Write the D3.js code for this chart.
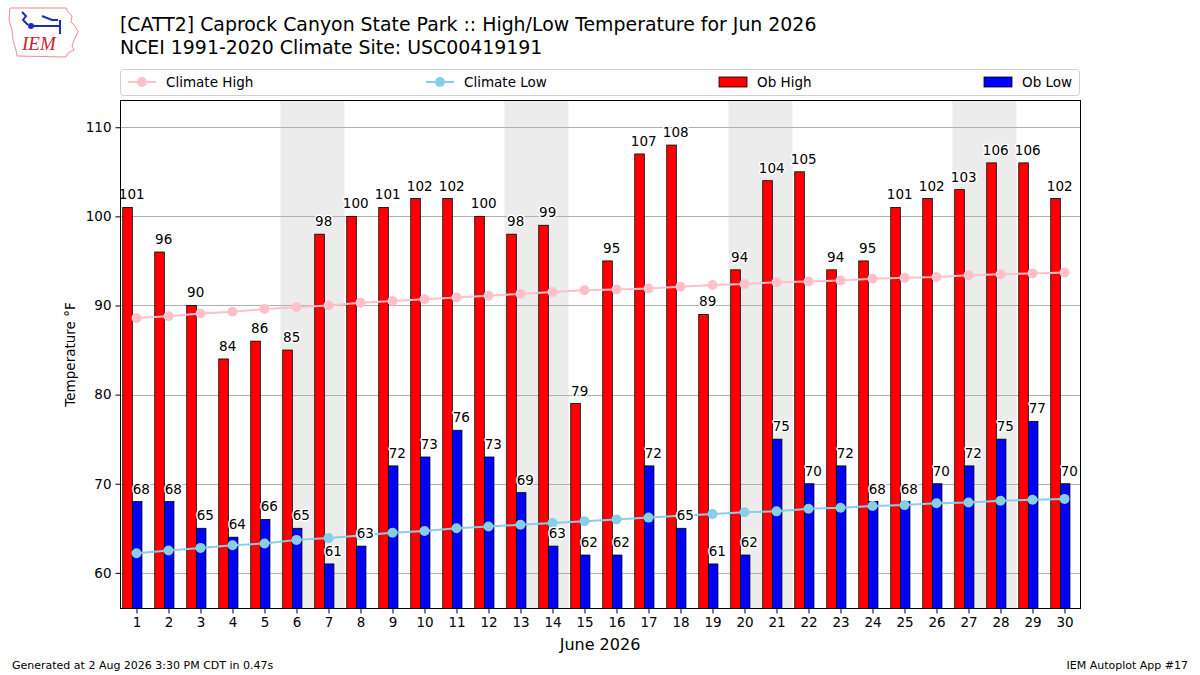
<!DOCTYPE html>
<html><head><meta charset="utf-8">
<script src="https://cdn.jsdelivr.net/npm/d3@7"></script>
<style>
body{margin:0;background:#fff;}
svg{font-family:"DejaVu Sans",sans-serif;}
</style></head>
<body><svg id="c" width="1200" height="675"></svg>
<script>
const days = d3.range(1, 31);
const obHigh = [101,96,90,84,86,85,98,100,101,102,102,100,98,99,79,95,107,108,89,94,104,105,94,95,101,102,103,106,106,102];
const obLow  = [68,68,65,64,66,65,61,63,72,73,76,73,69,63,62,62,72,65,61,62,75,70,72,68,68,70,72,75,77,70];
const climHigh = [88.6,88.8,89.1,89.3,89.6,89.8,90.0,90.3,90.5,90.7,90.9,91.1,91.3,91.5,91.7,91.8,91.9,92.1,92.3,92.4,92.6,92.7,92.8,93.0,93.1,93.2,93.4,93.5,93.6,93.7];
const climLow  = [62.2,62.5,62.8,63.1,63.3,63.7,63.9,64.2,64.5,64.7,65.0,65.2,65.4,65.6,65.8,66.0,66.2,66.4,66.6,66.8,66.9,67.2,67.3,67.5,67.6,67.8,67.9,68.1,68.2,68.3];
const weekendStarts = [6, 13, 20, 27];
const yTicks = [60,70,80,90,100,110];
const titleLines = ["[CATT2] Caprock Canyon State Park :: High/Low Temperature for Jun 2026",
                    "NCEI 1991-2020 Climate Site: USC00419191"];
const legendItems = ["Climate High","Climate Low","Ob High","Ob Low"];

const svg = d3.select("#c");
const L = 120.5, R = 1080.5, T = 100.5, B = 608.5;
const x = d3.scaleLinear().domain([0.5, 30.5]).range([L, R]);
const y = d3.scaleLinear().domain([56, 113]).range([B, T]);
const bw = x(0.3) - x(0);

// logo
const logo = svg.append("g");
logo.append("path").attr("d","M10,8 L66,8 L68,12 L72,16 L71,22 L75,26 L78,32 L74,40 L72,46 L74,50 L68,53 L66,57 L17,56 L16,50 L13,40 L12,30 L9,20 Z")
  .attr("fill","none").attr("stroke","#e87070").attr("stroke-width",0.8);
logo.append("text").attr("x",22).attr("y",50).attr("font-family","Liberation Serif,serif").attr("font-style","italic")
  .attr("font-size",19).attr("fill","#d0202a").text("IEM");
logo.append("path").attr("d","M31,26 L60,26 M60,20 L60,34 M22,12 L26,16 L23,20 L28,25 M42,16 L52,20 L58,20").attr("stroke","#1a2db0").attr("stroke-width",2).attr("fill","none");
logo.append("circle").attr("cx",31).attr("cy",26).attr("r",3).attr("fill","#1a2db0");

// titles
svg.append("text").attr("x",120).attr("y",31).attr("font-size",18.9).attr("fill","#000").text(titleLines[0]);
svg.append("text").attr("x",120).attr("y",54).attr("font-size",18.9).attr("fill","#000").text(titleLines[1]);

// weekend shading
svg.append("g").selectAll("rect").data(weekendStarts).join("rect")
  .attr("x", d => x(d - 0.5)).attr("y", T).attr("width", d => x(d + 1.5) - x(d - 0.5)).attr("height", B - T)
  .attr("fill", "#ececec");

// grid
svg.append("g").selectAll("line").data(yTicks).join("line")
  .attr("x1", L).attr("x2", R).attr("y1", d => Math.round(y(d)) + 0.5).attr("y2", d => Math.round(y(d)) + 0.5)
  .attr("stroke", "#b0b0b0").attr("stroke-width", 1);

// bars
const clip = svg.append("clipPath").attr("id","pc").append("rect").attr("x",L).attr("y",T).attr("width",R-L).attr("height",B-T);
const barsG = svg.append("g").attr("clip-path","url(#pc)");
barsG.selectAll("rect.h").data(days).join("rect").attr("class","h")
  .attr("x", (d,i) => x(d - 0.43)).attr("width", bw)
  .attr("y", (d,i) => y(obHigh[i])).attr("height", (d,i) => B + 2 - y(obHigh[i]))
  .attr("fill", "#ff0000").attr("stroke", "#000").attr("stroke-width", 0.8);
barsG.selectAll("rect.l").data(days).join("rect").attr("class","l")
  .attr("x", (d,i) => x(d - 0.13)).attr("width", bw)
  .attr("y", (d,i) => y(obLow[i])).attr("height", (d,i) => B + 2 - y(obLow[i]))
  .attr("fill", "#0000ff").attr("stroke", "#000").attr("stroke-width", 0.8);

// climate lines
function climLine(vals, color) {
  const g = svg.append("g");
  g.append("path").datum(days).attr("fill","none").attr("stroke",color).attr("stroke-width",2)
    .attr("d", d3.line().x(d => x(d)).y((d,i) => y(vals[i])));
  g.selectAll("circle").data(days).join("circle").attr("cx", d => x(d)).attr("cy", (d,i) => y(vals[i]))
    .attr("r", 5).attr("fill", color);
}
climLine(climHigh, "#ffc0cb");
climLine(climLow, "#87ceeb");

// value labels
function labels(vals, off) {
  svg.append("g").selectAll("text").data(days).join("text")
    .attr("x", d => x(d + off)).attr("y", (d,i) => y(vals[i]) - 8)
    .attr("text-anchor","middle").attr("font-size",13.5)
    .attr("stroke","#fff").attr("stroke-width",3).attr("paint-order","stroke").attr("stroke-linejoin","round")
    .attr("fill","#000").text((d,i) => vals[i]);
}
labels(obHigh, -0.15);
labels(obLow, 0.15);

// axes
const yAxis = svg.append("g").attr("transform",`translate(${L},0)`)
  .call(d3.axisLeft(y).tickValues(yTicks).tickSize(5).tickPadding(4));
const xAxis = svg.append("g").attr("transform",`translate(0,${B})`)
  .call(d3.axisBottom(x).tickValues(days).tickSize(5).tickPadding(4));
[yAxis, xAxis].forEach(a => {
  a.select(".domain").remove();
  a.selectAll("text").attr("font-size",13.5).attr("font-family","DejaVu Sans").attr("fill","#000");
  a.selectAll("line").attr("stroke","#000");
});
svg.append("rect").attr("x",L).attr("y",T).attr("width",R-L).attr("height",B-T)
  .attr("fill","none").attr("stroke","#000").attr("stroke-width",1);

svg.append("text").attr("transform",`translate(75,${(T+B)/2}) rotate(-90)`).attr("text-anchor","middle")
  .attr("font-size",13.5).text("Temperature °F");
svg.append("text").attr("x",600).attr("y",650).attr("text-anchor","middle").attr("font-size",16).text("June 2026");

// legend
const lg = svg.append("g");
lg.append("rect").attr("x",120.5).attr("y",69.5).attr("width",959).attr("height",26).attr("rx",3)
  .attr("fill","#fff").attr("stroke","#d0d0d0");
const ly = 82;
const lx = [128, 426, 719, 984];
[["#ffc0cb"],["#87ceeb"]].forEach((c,i) => {
  lg.append("line").attr("x1",lx[i]).attr("x2",lx[i]+28).attr("y1",ly).attr("y2",ly).attr("stroke",c[0]).attr("stroke-width",2);
  lg.append("circle").attr("cx",lx[i]+14).attr("cy",ly).attr("r",5).attr("fill",c[0]);
});
lg.append("rect").attr("x",lx[2]).attr("y",ly-5).attr("width",28).attr("height",10).attr("fill","#ff0000").attr("stroke","#000").attr("stroke-width",0.8);
lg.append("rect").attr("x",lx[3]).attr("y",ly-5).attr("width",28).attr("height",10).attr("fill","#0000ff").attr("stroke","#000").attr("stroke-width",0.8);
legendItems.forEach((t,i) => {
  lg.append("text").attr("x", lx[i] + 38).attr("y", ly + 5).attr("font-size",13.5).text(t);
});

// footer
svg.append("text").attr("x",12).attr("y",669).attr("font-size",11).text("Generated at 2 Aug 2026 3:30 PM CDT in 0.47s");
svg.append("text").attr("x",1188).attr("y",669).attr("text-anchor","end").attr("font-size",11).text("IEM Autoplot App #17");
</script></body></html>
